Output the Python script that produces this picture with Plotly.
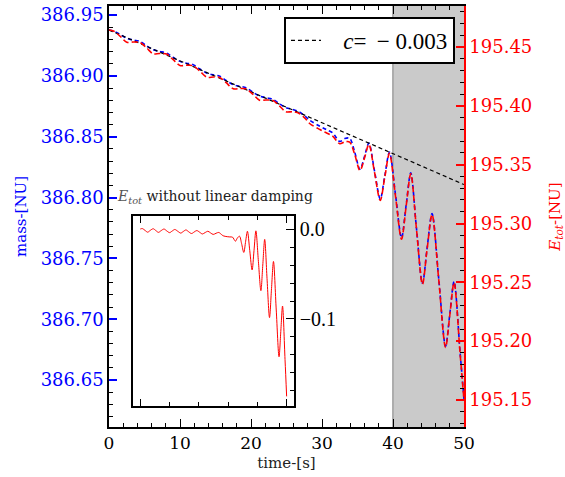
import plotly.graph_objects as go

# Simulation time samples [s]
time_s = [0.0, 0.7, 1.6, 2.5, 3.4, 4.4, 5.3, 6.2, 7.1, 8.1,
          9.0, 10.0, 10.9, 11.8, 12.8, 13.8, 14.7, 15.6, 16.5, 17.5,
          18.4, 19.3, 20.3, 21.2, 22.1, 23.1, 24.0, 24.9, 25.9, 26.8,
          27.7, 28.3, 29.7, 30.6, 31.5, 32.5, 33.2, 33.9, 34.6, 35.35,
          36.0, 36.6, 37.4, 38.2, 38.85, 39.5, 40.35, 41.2, 41.85, 42.5,
          43.3, 44.15, 44.8, 45.5, 46.45, 47.4, 48.0, 48.6, 49.45, 50.0]

# Total mass [NU] (left axis)
mass_nu = [386.9377, 386.9367, 386.9340, 386.9309, 386.9295, 386.9282, 386.9246, 386.9215, 386.9201, 386.9188,
           386.9153, 386.9119, 386.9104, 386.9094, 386.9056, 386.9022, 386.9008, 386.8997, 386.8962, 386.8928,
           386.8914, 386.8903, 386.8865, 386.8834, 386.8820, 386.8807, 386.8771, 386.8740, 386.8723, 386.8704,
           386.8665, 386.8634, 386.8586, 386.8559, 386.8532, 386.8461, 386.8485, 386.8487, 386.8375, 386.8233,
           386.8340, 386.8447, 386.8218, 386.7989, 386.8181, 386.8374, 386.8024, 386.7670, 386.7937, 386.8203,
           386.7752, 386.7296, 386.7583, 386.7869, 386.7328, 386.6779, 386.7043, 386.7310, 386.6727, 386.6344]

# Total energy [NU] (right axis)
etot_nu = [195.4645, 195.4635, 195.4590, 195.4540, 195.4543, 195.4537, 195.4493, 195.4443, 195.4445, 195.4440,
           195.4395, 195.4343, 195.4345, 195.4342, 195.4295, 195.4243, 195.4245, 195.4242, 195.4197, 195.4145,
           195.4147, 195.4145, 195.4097, 195.4048, 195.4050, 195.4045, 195.4000, 195.3950, 195.3950, 195.3935,
           195.3890, 195.3848, 195.3799, 195.3771, 195.3743, 195.3678, 195.3694, 195.3692, 195.3589, 195.3450,
           195.3560, 195.3672, 195.3434, 195.3196, 195.3396, 195.3596, 195.3233, 195.2867, 195.3147, 195.3423,
           195.2956, 195.2483, 195.2780, 195.3076, 195.2516, 195.1947, 195.2220, 195.2497, 195.1893, 195.1496]

# Total energy with the linear damping trend removed (inset)
etot_undamped = [0.0, 0.0005, -0.0015, -0.0035, -0.0015, 0.0003, -0.0017, -0.0037, -0.0018, 0.0,
                 -0.002, -0.004, -0.0022, -0.0005, -0.0025, -0.0045, -0.0027, -0.001, -0.003, -0.005,
                 -0.0033, -0.0017, -0.0036, -0.0055, -0.004, -0.0025, -0.0043, -0.006, -0.0047, -0.0038,
                 -0.006, -0.0075, -0.0085, -0.0088, -0.009, -0.0135, -0.0098, -0.008, -0.016, -0.026,
                 -0.0135, -0.0025, -0.024, -0.0455, -0.024, -0.002, -0.036, -0.0685, -0.04, -0.0115,
                 -0.055, -0.0985, -0.068, -0.036, -0.09, -0.142, -0.114, -0.0856, -0.145, -0.186]

# Linear damping fit of the mass
fit_m0 = 386.9377
fit_c = -0.00254
fit_t = [0.0, 50.0]
fit_m = [fit_m0 + fit_c * t for t in fit_t]

# Time window that is highlighted
window_t = [40.0, 50.0]

SERIF = "DejaVu Serif"
MATH = "Liberation Serif"

sign = "\u2212" if fit_c < 0 else ""
fit_label = "\u00a0\u00a0\u00a0<i>c</i>=\u2009\u00a0" + sign + "\u00a0" + f"{abs(fit_c):.3f}"

fig = go.Figure()

fig.add_trace(go.Scatter(
    x=time_s, y=mass_nu, mode="lines", yaxis="y", showlegend=False,
    line=dict(color="#0000ff", width=1.6, dash="4px,3px", shape="spline", smoothing=0.9),
))
fig.add_trace(go.Scatter(
    x=fit_t, y=fit_m, mode="lines", yaxis="y", name=fit_label, showlegend=True,
    line=dict(color="black", width=1.2, dash="4px,3px"),
))
fig.add_trace(go.Scatter(
    x=time_s, y=etot_nu, mode="lines", yaxis="y2", showlegend=False,
    line=dict(color="#ff0000", width=1.6, dash="6px,3px", shape="spline", smoothing=0.9),
))
fig.add_trace(go.Scatter(
    x=time_s, y=etot_undamped, mode="lines", xaxis="x3", yaxis="y3", showlegend=False,
    line=dict(color="#ff0000", width=1.0, shape="spline", smoothing=0.9),
))

fig.add_shape(type="rect", xref="x", yref="paper", x0=window_t[0], x1=window_t[1], y0=0, y1=1,
              fillcolor="#cacaca", line=dict(width=0), layer="below")
fig.add_shape(type="line", xref="x", yref="paper", x0=window_t[0], x1=window_t[0], y0=0, y1=1,
              line=dict(color="#adadad", width=2), layer="below")

fig.add_annotation(
    xref="paper", yref="paper", x=0.017, y=0.546, xanchor="left", yanchor="middle", showarrow=False,
    text="<span style='color:#555'><i>E</i><sub><i>tot</i></sub></span> without linear damping",
    font=dict(family=SERIF, size=14, color="#222"),
)

fig.update_layout(
    width=565, height=477,
    margin=dict(l=109, r=101, t=6, b=50),
    paper_bgcolor="white", plot_bgcolor="white",
    showlegend=True,
    legend=dict(x=0.9746, xanchor="right", y=0.9739, yanchor="top",
                bordercolor="black", borderwidth=2, bgcolor="white",
                font=dict(family=MATH, size=23, color="black")),
    xaxis=dict(
        range=[0, 50], domain=[0, 1], anchor="y",
        showline=True, linecolor="black", linewidth=1.5, mirror="ticks",
        ticks="inside", ticklen=8, tickwidth=1.2, tickcolor="black",
        tick0=0, dtick=10,
        minor=dict(dtick=2, ticklen=4, tickwidth=1, tickcolor="black", ticks="inside"),
        showgrid=False, zeroline=False, automargin=False,
        tickfont=dict(family=SERIF, size=17, color="black"),
        title=dict(text="time-[s]", font=dict(family=SERIF, size=15, color="#222"), standoff=5),
    ),
    yaxis=dict(
        range=[386.6115, 386.9574],
        showline=True, linecolor="black", linewidth=1.5,
        ticks="inside", ticklen=8, tickwidth=1.5, tickcolor="#0000ff",
        tick0=386.65, dtick=0.05, tickformat=".2f",
        minor=dict(dtick=0.01, ticklen=4, tickwidth=1, tickcolor="black", ticks="inside"),
        showgrid=False, zeroline=False, automargin=False,
        tickfont=dict(family=SERIF, size=18, color="#0000ff"),
        title=dict(text="mass-[NU]", font=dict(family=SERIF, size=15, color="#0000ff"), standoff=10),
    ),
    yaxis2=dict(
        range=[195.127, 195.4849], overlaying="y", side="right", anchor="x",
        showline=True, linecolor="#ff0000", linewidth=1.5,
        ticks="inside", ticklen=8, tickwidth=1.5, tickcolor="#ff0000",
        tick0=195.15, dtick=0.05, tickformat=".2f",
        minor=dict(dtick=0.01, ticklen=4, tickwidth=1, tickcolor="black", ticks="inside"),
        showgrid=False, zeroline=False, automargin=False,
        tickfont=dict(family=SERIF, size=18, color="#ff0000"),
        title=dict(text="<i>E</i><sub><i>tot</i></sub>-[NU]",
                   font=dict(family=SERIF, size=15, color="#ff0000"), standoff=20),
    ),
    xaxis3=dict(
        domain=[0.0676, 0.521], anchor="y3", range=[-2.5, 52.5],
        showline=True, linecolor="black", linewidth=1.8, mirror="ticks",
        ticks="inside", ticklen=7, tickwidth=1.2, tickcolor="black",
        tick0=0, dtick=50,
        minor=dict(dtick=10, ticklen=4, tickwidth=1, tickcolor="black", ticks="inside"),
        showticklabels=False, showgrid=False, zeroline=False,
    ),
    yaxis3=dict(
        domain=[0.0499, 0.501], anchor="x3", side="right", range=[-0.1967, 0.0144],
        showline=True, linecolor="black", linewidth=1.8, mirror=True,
        ticks="inside", ticklen=8, tickwidth=1.2, tickcolor="black",
        tick0=0, dtick=0.1, tickformat=".1f",
        minor=dict(dtick=0.02, ticklen=4, tickwidth=1, tickcolor="black", ticks="inside"),
        showgrid=False, zeroline=False,
        tickfont=dict(family=MATH, size=20, color="black"),
    ),
)

fig.write_html("out.html")
